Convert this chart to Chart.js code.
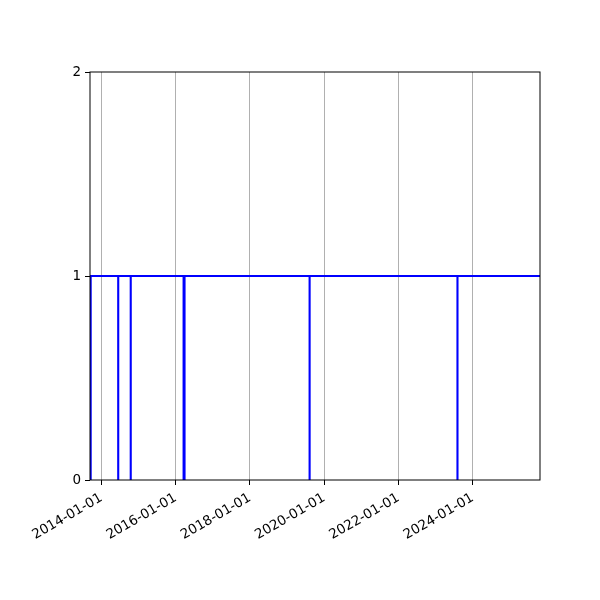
<!DOCTYPE html>
<html>
<head>
<meta charset="utf-8">
<script src="https://cdn.jsdelivr.net/npm/chart.js@4/dist/chart.umd.min.js"></script>
<style>
  html, body { margin: 0; padding: 0; background: #fff; }
  canvas { display: block; }
</style>
</head>
<body>
<canvas id="chart" width="600" height="600"></canvas>
<script>
// step series: value holds from each date until the next one
const stepDates = [
    '2013-09-11', '2013-09-18',
    '2014-06-15', '2014-06-16',
    '2014-10-16', '2014-10-17',
    '2016-03-19', '2016-03-29',
    '2019-08-10', '2019-08-11',
    '2023-08-03', '2023-08-04',
    '2025-10-23'
];
const stepValues = [0, 1, 0, 1, 0, 1, 0, 1, 0, 1, 0, 1, 1];

const xStart = '2013-09-11';
const xEnd = '2025-10-23';
const xTickDates = ['2014-01-01', '2016-01-01', '2018-01-01', '2020-01-01', '2022-01-01', '2024-01-01'];
const yTicks = [0, 1, 2];

const toMs = d => Date.parse(d + 'T00:00:00Z');

const points = stepDates.map((d, i) => ({ x: toMs(d), y: stepValues[i] }));

// matplotlib-style box around the plot area
const frame = {
    id: 'frame',
    afterDraw(chart) {
        const { ctx, chartArea: a } = chart;
        ctx.save();
        ctx.strokeStyle = '#000';
        ctx.lineWidth = 1;
        ctx.strokeRect(a.left, a.top, a.right - a.left, a.bottom - a.top);
        ctx.restore();
    }
};

const font = { family: 'DejaVu Sans', size: 13.5 };

new Chart(document.getElementById('chart'), {
    type: 'line',
    data: {
        datasets: [{
            data: points,
            stepped: true,
            borderColor: '#0000ff',
            borderWidth: 2,
            pointRadius: 0,
            fill: false
        }]
    },
    options: {
        responsive: false,
        animation: false,
        devicePixelRatio: 1,
        layout: { padding: { top: 72, right: 60, left: 0, bottom: 0 } },
        plugins: { legend: { display: false }, tooltip: { enabled: false } },
        scales: {
            x: {
                type: 'linear',
                min: toMs(xStart),
                max: toMs(xEnd),
                afterBuildTicks(scale) {
                    scale.ticks = xTickDates.map(d => ({ value: toMs(d), label: d }));
                },
                afterFit(scale) { scale.height = 120; },
                ticks: {
                    color: '#000',
                    font,
                    minRotation: 30,
                    maxRotation: 30,
                    autoSkip: false,
                    padding: 5,
                    callback: v => new Date(v).toISOString().slice(0, 10)
                },
                grid: {
                    color: '#b0b0b0',
                    lineWidth: 1,
                    tickColor: '#000',
                    tickLength: 5
                },
                border: { display: false }
            },
            y: {
                min: 0,
                max: 2,
                afterBuildTicks(scale) {
                    scale.ticks = yTicks.map(v => ({ value: v }));
                },
                afterFit(scale) { scale.width = 90; },
                ticks: { color: '#000', font, padding: 4 },
                grid: {
                    drawOnChartArea: false,
                    tickColor: '#000',
                    tickLength: 5
                },
                border: { display: false }
            }
        }
    },
    plugins: [frame]
});
</script>
</body>
</html>
